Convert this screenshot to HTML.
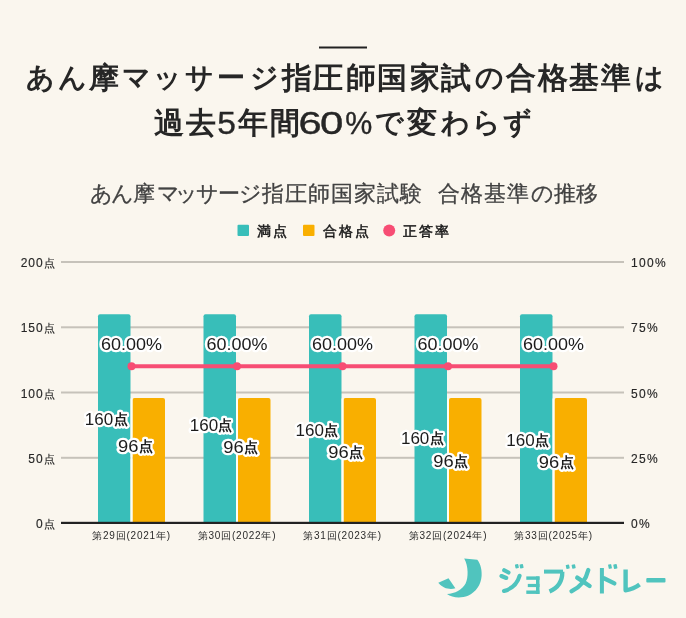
<!DOCTYPE html>
<html lang="ja"><head><meta charset="utf-8">
<style>
html,body{margin:0;padding:0;background:#faf6ee;}
body{width:686px;height:618px;overflow:hidden;position:relative;font-family:"Liberation Sans",sans-serif;}
svg{position:absolute;left:0;top:0;will-change:transform;}
svg text{font-family:"Liberation Sans",sans-serif;}
.t1{font-size:30px;font-weight:bold;fill:#262626;}
.kn{font-size:27.5px;}
.t2d{font-size:32px;font-weight:normal;stroke:#222;stroke-width:0.35px;}
.ct{font-size:22px;fill:#424242;stroke:#424242;stroke-width:0.3px;}
.lg{font-size:14px;fill:#1a1a1a;stroke:#1a1a1a;stroke-width:0.5px;letter-spacing:2px;}
.ax{font-size:12px;fill:#262626;stroke:#262626;stroke-width:0.15px;}
.xl{font-size:10px;fill:#2a2a2a;letter-spacing:0.8px;}
.dk{font-size:14px;font-weight:bold;}
.halo,.dlf{font-size:16px;}
.halo{fill:#fff;stroke:#fff;stroke-width:4.6px;stroke-linejoin:round;}
.dlf{fill:#1c1c1c;}
</style></head><body>
<svg width="686" height="618" viewBox="0 0 686 618">
<rect x="319" y="46.5" width="48" height="2" fill="#222"/>
<text class="t1"><tspan class="kn" x="26.3" y="87.3">あ</tspan><tspan class="kn" x="58.2" y="87.3">ん</tspan><tspan x="88.5" y="88.1">摩</tspan><tspan class="kn" x="121.7" y="87.3">マ</tspan><tspan class="kn" x="153.0" y="87.3">ッ</tspan><tspan class="kn" x="185.4" y="87.3">サ</tspan><tspan class="kn" x="217.2" y="87.3">ー</tspan><tspan class="kn" x="250.2" y="87.3">ジ</tspan><tspan x="282.4" y="88.1">指</tspan><tspan x="312.7" y="88.1">圧</tspan><tspan x="345.7" y="88.1">師</tspan><tspan x="376.9" y="88.1">国</tspan><tspan x="409.6" y="88.1">家</tspan><tspan x="441.4" y="88.1">試</tspan><tspan class="kn" x="474.8" y="87.3">の</tspan><tspan x="505.5" y="88.1">合</tspan><tspan x="537.8" y="88.1">格</tspan><tspan x="569.1" y="88.1">基</tspan><tspan x="601.0" y="88.1">準</tspan><tspan class="kn" x="635.4" y="87.3">は</tspan></text>
<text class="t1"><tspan x="154.3" y="133">過</tspan><tspan x="186.4" y="133">去</tspan><tspan class="t2d" x="217.3" y="134" textLength="18.69" lengthAdjust="spacingAndGlyphs">5</tspan><tspan x="237.9" y="133">年</tspan><tspan x="269.6" y="133">間</tspan><tspan class="t2d" x="298.4" y="134" textLength="23.14" lengthAdjust="spacingAndGlyphs">6</tspan><tspan class="t2d" x="320.0" y="134" textLength="23.32" lengthAdjust="spacingAndGlyphs">0</tspan><tspan class="t2d" x="345.2" y="134" textLength="27.03" lengthAdjust="spacingAndGlyphs">%</tspan><tspan class="kn" x="374.6" y="132.2">で</tspan><tspan x="407.2" y="133">変</tspan><tspan class="kn" x="441.3" y="132.2">わ</tspan><tspan class="kn" x="472.4" y="132.2">ら</tspan><tspan class="kn" x="502.9" y="132.2">ず</tspan></text>

<text class="ct" x="89.5 110.7 133.2 157.0 175.4 195.8 218.4 239.1 261.7 284.6 308.2 331.2 353.5 377.3 399.5 420 437.7 461.1 483.6 506.7 530.5 553.5 575.8" y="201">あん摩マッサージ指圧師国家試験　合格基準の推移</text>
<!-- legend -->
<rect x="237.5" y="224.8" width="11.5" height="11.2" rx="1" fill="#38beb9"/>
<text class="lg" x="257" y="236">満点</text>
<rect x="303" y="224.8" width="11.5" height="11.2" rx="1" fill="#f9af00"/>
<text class="lg" x="322.5" y="236">合格点</text>
<circle cx="389.2" cy="230.4" r="6" fill="#f74d74"/>
<text class="lg" x="403" y="236">正答率</text>
<!-- grid -->
<g fill="#c6c2ba">
<rect x="61" y="261" width="563" height="2"/>
<rect x="61" y="326.3" width="563" height="2"/>
<rect x="61" y="391.5" width="563" height="2"/>
<rect x="61" y="456.8" width="563" height="2"/>
</g>
<!-- axis labels left -->
<g class="ax" text-anchor="end">
<text x="54.5" y="267.00"><tspan style="letter-spacing:0.9px">200</tspan><tspan style="font-size:10.5px">点</tspan></text>
<text x="54.5" y="332.25"><tspan style="letter-spacing:0.9px">150</tspan><tspan style="font-size:10.5px">点</tspan></text>
<text x="54.5" y="397.50"><tspan style="letter-spacing:0.9px">100</tspan><tspan style="font-size:10.5px">点</tspan></text>
<text x="54.5" y="462.75"><tspan style="letter-spacing:0.9px">50</tspan><tspan style="font-size:10.5px">点</tspan></text>
<text x="54.5" y="528.00"><tspan style="letter-spacing:0.9px">0</tspan><tspan style="font-size:10.5px">点</tspan></text>
</g>
<g class="ax" style="letter-spacing:1.3px">
<text x="631" y="267.00">100%</text>
<text x="631" y="332.25">75%</text>
<text x="631" y="397.50">50%</text>
<text x="631" y="462.75">25%</text>
<text x="631" y="528.00">0%</text>
</g>
<!-- bars -->
<g id="bars">
<g fill="#38beb9">
<path d="M98 522.5V316.3a2 2 0 0 1 2-2h28.5a2 2 0 0 1 2 2V522.5z"/>
<path d="M203.5 522.5V316.3a2 2 0 0 1 2-2h28.5a2 2 0 0 1 2 2V522.5z"/>
<path d="M309 522.5V316.3a2 2 0 0 1 2-2h28.5a2 2 0 0 1 2 2V522.5z"/>
<path d="M414.5 522.5V316.3a2 2 0 0 1 2-2h28.5a2 2 0 0 1 2 2V522.5z"/>
<path d="M520 522.5V316.3a2 2 0 0 1 2-2h28.5a2 2 0 0 1 2 2V522.5z"/>
</g>
<g fill="#f9af00">
<path d="M132.5 522.5V400a2 2 0 0 1 2-2h28.5a2 2 0 0 1 2 2V522.5z"/>
<path d="M238 522.5V400a2 2 0 0 1 2-2h28.5a2 2 0 0 1 2 2V522.5z"/>
<path d="M343.5 522.5V400a2 2 0 0 1 2-2h28.5a2 2 0 0 1 2 2V522.5z"/>
<path d="M449 522.5V400a2 2 0 0 1 2-2h28.5a2 2 0 0 1 2 2V522.5z"/>
<path d="M554.5 522.5V400a2 2 0 0 1 2-2h28.5a2 2 0 0 1 2 2V522.5z"/>
</g>
</g>
<g fill="#fdfdf6"><rect x="130.5" y="398.5" width="2" height="123.5"/><rect x="236.0" y="398.5" width="2" height="123.5"/><rect x="341.5" y="398.5" width="2" height="123.5"/><rect x="447.0" y="398.5" width="2" height="123.5"/><rect x="552.5" y="398.5" width="2" height="123.5"/></g>
<rect x="61" y="521.8" width="563" height="2.2" fill="#222"/>
<!-- line -->
<path d="M131.5 366.3H553.5" stroke="#f74d74" stroke-width="4" fill="none"/>
<g fill="#f74d74">
<circle cx="131.5" cy="366.3" r="4"/>
<circle cx="237" cy="366.3" r="4"/>
<circle cx="342.5" cy="366.3" r="4"/>
<circle cx="448" cy="366.3" r="4"/>
<circle cx="553.5" cy="366.3" r="4"/>
</g>
<!-- data labels -->

<g class="halo"><g text-anchor="middle">
<text x="131.5" y="349.8" textLength="61" lengthAdjust="spacingAndGlyphs">60.00%</text>
<text x="237" y="349.8" textLength="61" lengthAdjust="spacingAndGlyphs">60.00%</text>
<text x="342.5" y="349.8" textLength="61" lengthAdjust="spacingAndGlyphs">60.00%</text>
<text x="448" y="349.8" textLength="61" lengthAdjust="spacingAndGlyphs">60.00%</text>
<text x="553.5" y="349.8" textLength="61" lengthAdjust="spacingAndGlyphs">60.00%</text>
</g>
<text x="84.79" y="425.30" textLength="28.38" lengthAdjust="spacingAndGlyphs">160</text><text class="dk" x="113.50" y="424.40">点</text>
<text x="118.05" y="451.70" textLength="20.39" lengthAdjust="spacingAndGlyphs">96</text><text class="dk" x="138.70" y="450.80">点</text>
<text x="189.74" y="431.30" textLength="28.38" lengthAdjust="spacingAndGlyphs">160</text><text class="dk" x="218.45" y="430.40">点</text>
<text x="223.25" y="453.20" textLength="20.39" lengthAdjust="spacingAndGlyphs">96</text><text class="dk" x="243.90" y="452.30">点</text>
<text x="295.54" y="435.70" textLength="28.38" lengthAdjust="spacingAndGlyphs">160</text><text class="dk" x="324.25" y="434.80">点</text>
<text x="328.25" y="458.30" textLength="20.39" lengthAdjust="spacingAndGlyphs">96</text><text class="dk" x="348.90" y="457.40">点</text>
<text x="400.94" y="444.20" textLength="28.38" lengthAdjust="spacingAndGlyphs">160</text><text class="dk" x="429.65" y="443.30">点</text>
<text x="433.25" y="466.80" textLength="20.39" lengthAdjust="spacingAndGlyphs">96</text><text class="dk" x="453.90" y="465.90">点</text>
<text x="506.24" y="445.70" textLength="28.38" lengthAdjust="spacingAndGlyphs">160</text><text class="dk" x="534.95" y="444.80">点</text>
<text x="538.85" y="467.60" textLength="20.39" lengthAdjust="spacingAndGlyphs">96</text><text class="dk" x="559.50" y="466.70">点</text>
</g>
<g class="dlf"><g text-anchor="middle">
<text x="131.5" y="349.8" textLength="61" lengthAdjust="spacingAndGlyphs">60.00%</text>
<text x="237" y="349.8" textLength="61" lengthAdjust="spacingAndGlyphs">60.00%</text>
<text x="342.5" y="349.8" textLength="61" lengthAdjust="spacingAndGlyphs">60.00%</text>
<text x="448" y="349.8" textLength="61" lengthAdjust="spacingAndGlyphs">60.00%</text>
<text x="553.5" y="349.8" textLength="61" lengthAdjust="spacingAndGlyphs">60.00%</text>
</g>
<text x="84.79" y="425.30" textLength="28.38" lengthAdjust="spacingAndGlyphs">160</text><text class="dk" x="113.50" y="424.40">点</text>
<text x="118.05" y="451.70" textLength="20.39" lengthAdjust="spacingAndGlyphs">96</text><text class="dk" x="138.70" y="450.80">点</text>
<text x="189.74" y="431.30" textLength="28.38" lengthAdjust="spacingAndGlyphs">160</text><text class="dk" x="218.45" y="430.40">点</text>
<text x="223.25" y="453.20" textLength="20.39" lengthAdjust="spacingAndGlyphs">96</text><text class="dk" x="243.90" y="452.30">点</text>
<text x="295.54" y="435.70" textLength="28.38" lengthAdjust="spacingAndGlyphs">160</text><text class="dk" x="324.25" y="434.80">点</text>
<text x="328.25" y="458.30" textLength="20.39" lengthAdjust="spacingAndGlyphs">96</text><text class="dk" x="348.90" y="457.40">点</text>
<text x="400.94" y="444.20" textLength="28.38" lengthAdjust="spacingAndGlyphs">160</text><text class="dk" x="429.65" y="443.30">点</text>
<text x="433.25" y="466.80" textLength="20.39" lengthAdjust="spacingAndGlyphs">96</text><text class="dk" x="453.90" y="465.90">点</text>
<text x="506.24" y="445.70" textLength="28.38" lengthAdjust="spacingAndGlyphs">160</text><text class="dk" x="534.95" y="444.80">点</text>
<text x="538.85" y="467.60" textLength="20.39" lengthAdjust="spacingAndGlyphs">96</text><text class="dk" x="559.50" y="466.70">点</text>
</g>
<!-- x labels -->
<g class="xl" text-anchor="middle">
<text x="131.5" y="539">第29回(2021年)</text>
<text x="237" y="539">第30回(2022年)</text>
<text x="342.5" y="539">第31回(2023年)</text>
<text x="448" y="539">第32回(2024年)</text>
<text x="553.5" y="539">第33回(2025年)</text>
</g>
<!-- logo -->
<g fill="#50c4be">
<path d="M464.2,558.6 L477.3,559.7 C481,564 482,571 481.6,576 C481,585 476,592 468,595.8 C461,598.5 452,598 447,594 C455,593.5 462,589.5 465.6,583.4 C468.5,578 468.5,566 464.2,558.6 Z"/>
<path d="M438.3,582.7 L448.5,578.3 L455.4,588.2 C450,590 443,588.5 438.3,582.7 Z"/>
<rect x="515.2" y="564.2" width="3.4" height="4" rx="0.6" transform="rotate(-12 516.9 566.2)"/>
<rect x="519.8" y="564.2" width="3.5" height="4" rx="0.6" transform="rotate(-12 521.5 566.2)"/>
<rect x="526.3" y="576.4" width="13.2" height="3.4"/>
<rect x="527.8" y="583.9" width="11.7" height="3.2"/>
<rect x="526.3" y="590.5" width="13.2" height="3.4"/>
<rect x="536" y="576.4" width="3.5" height="17.5"/>
<rect x="544" y="569.6" width="19" height="4"/>
<rect x="566" y="564.8" width="3.4" height="4" rx="0.6" transform="rotate(-12 567.7 566.7)"/>
<rect x="571.9" y="564.5" width="3.5" height="4" rx="0.6" transform="rotate(-12 573.6 566.5)"/>
<rect x="608.4" y="564.3" width="3.2" height="4.4" rx="0.6" transform="rotate(-12 610 566.5)"/>
<rect x="613.6" y="564.3" width="3.5" height="4.4" rx="0.6" transform="rotate(-12 615.4 566.5)"/>
<rect x="599.9" y="568" width="4" height="25.5"/>
<rect x="646.3" y="578" width="19.2" height="4.5" rx="1"/>
</g>
<g fill="none" stroke="#50c4be" stroke-linecap="round">
<path d="M504.2,570.2 L508.5,572.5" stroke-width="4.1"/>
<path d="M501.4,576 L506.3,578" stroke-width="4.1"/>
<path d="M519.6,575.8 Q516.5,587.5 504,591" stroke-width="4.1"/>
<path d="M562.3,571.8 Q562.5,586 549.5,591.5" stroke-width="4.3" stroke-linecap="butt"/>
<path d="M588.3,570 Q584.5,585.5 571.5,591.2" stroke-width="4.3"/>
<path d="M577.2,577.6 L589.6,586" stroke-width="4.3"/>
<path d="M603.9,578.3 L614.4,583.4" stroke-width="4.3"/>
<path d="M625.6,569.4 V590.2 Q633.5,589 639.6,584.4" stroke-width="4.4" stroke-linecap="butt" stroke-linejoin="round"/>
</g>
</svg>
</body></html>
